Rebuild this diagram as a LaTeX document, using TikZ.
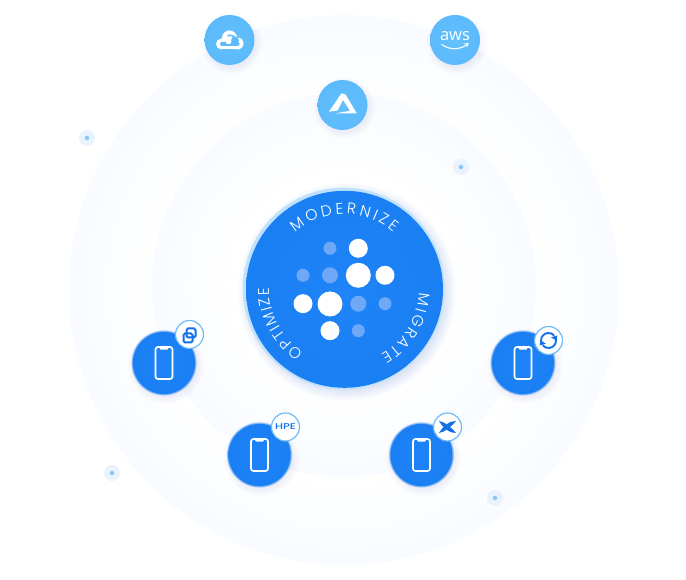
\documentclass[tikz,border=0pt]{standalone}
\usepackage{fontspec}
\newfontfamily\ringfont{Poppins Light}
\newfontfamily\awsfont{Open Sans}
\newfontfamily\hpefont{Poppins Medium}
\usetikzlibrary{decorations.text,arrows.meta}
\definecolor{pale}{RGB}{248,251,255}
\definecolor{sky}{RGB}{92,186,252}
\definecolor{skyhi}{RGB}{100,192,253}
\definecolor{core}{RGB}{26,127,243}
\definecolor{corehi}{RGB}{30,132,247}
\definecolor{rimc}{RGB}{190,225,253}
\definecolor{iconblue}{RGB}{20,112,232}
\definecolor{badgerim}{RGB}{112,186,245}
\definecolor{semidot}{RGB}{110,168,246}
\definecolor{haloc}{RGB}{232,243,254}
\definecolor{speckc}{RGB}{140,196,245}
\definecolor{shadec}{RGB}{60,110,225}
\pgfdeclareradialshading{outerfade}{\pgfpointorigin}{color(0bp)=(white);color(17bp)=(white);color(25bp)=(pale);color(50bp)=(pale)}
\pgfdeclareradialshading{innerfade}{\pgfpointorigin}{color(0bp)=(white);color(14bp)=(white);color(25bp)=(pale);color(50bp)=(pale)}
\newcommand\softshadow[5]{% x y r colour opacity
  \foreach \k in {14,12,...,0}{\fill[#4,opacity=#5] (#1+2,#2+3) circle ({#3+\k*0.5});}}
\newcommand\softdisc[4]{% x y r colour: blurred edge
  \foreach \k in {3,2,1}{\fill[#4,opacity=0.3] (#1,#2) circle ({#3+\k*0.6});}}
\newcommand\phoneglyph[1]{%
  \begin{scope}[shift={(#1)}]
    \draw[phoneline,rounded corners=2.5pt] (-8.5,-16) rectangle (8.5,16);
    \fill[white] (-5,-16) -- (5,-16) -- (3.5,-13.3) -- (-3.5,-13.3) -- cycle;
  \end{scope}}
\tikzset{
  skydisc/.style={circle,inner sep=0pt,minimum size=50pt,shade,shading=radial,inner color=skyhi,outer color=sky},
  coredisc/.style={circle,inner sep=0pt,minimum size=62pt,shade,shading=radial,inner color=corehi,outer color=core},
  badge/.style={circle,inner sep=0pt,minimum size=28pt,fill=white,draw=badgerim,line width=1.2pt},
  phoneline/.style={draw=white,line width=1.7pt},
  bigdot/.style={circle,inner sep=0pt,fill=white,minimum size=#1},
  semi/.style={circle,inner sep=0pt,fill=semidot,minimum size=#1},
  halo/.style={circle,inner sep=0pt,fill=haloc,minimum size=16pt},
  speck/.style={circle,inner sep=0pt,fill=speckc,minimum size=4.5pt},
  bluestroke/.style={draw=iconblue,line width=2pt},
  ringtext/.style={decorate,decoration={text along path,text align={fit to path},text={|\ringfont\fontsize{15.5}{15.5}\selectfont\color{white}|#1}}}
}
\begin{document}
\begin{tikzpicture}[x=1pt,y=-1pt,yshift=580pt]
\useasboundingbox (0,0) rectangle (686,580);
% rings
\path[shade,shading=outerfade] (344,290) circle (275);
\path[shade,shading=innerfade] (344,285) circle (192);
% scattered dots
\foreach \n/\x/\y in {sa/87/138,sb/461/167,sc/112/473,sd/495/498}{
  \node[halo] (\n) at (\x,\y) {};
  \node[speck] (\n c) at (\x,\y) {};
}
% top cloud icons
\softshadow{229.5}{40}{24}{shadec}{0.008}
\softshadow{455}{40}{24}{shadec}{0.008}
\softshadow{342.5}{105}{24}{shadec}{0.008}
\node[skydisc] (gcp) at (229.5,40) {};
\node[skydisc] (aws) at (455,40) {};
\node[skydisc] (azure) at (342.5,105) {};
% google cloud glyph
\begin{scope}[shift={(229.5,40.5)}]
  \fill[white] (-8,3.5) circle (5.5) (8,3) circle (6) (0,-2.5) circle (7.5);
  \fill[white] (-8,0) rectangle (8,9);
  \fill[sky,rounded corners=1.5pt] (-9.5,1.5) rectangle (10,5.5);
  \fill[sky] (5.5,0) circle (4);
  \fill[white,rounded corners=1pt] (-3.5,-1) rectangle (1.5,3.5);
  \draw[sky,line width=1.6pt] (6,-1) .. controls (5,-5) and (1,-6) .. (-2,-4.5);
\end{scope}
% aws glyph
\node[text=white,inner sep=0pt,font=\awsfont\fontsize{16.5}{16.5}\selectfont] (awst) at (455,36.5) {aws};
\draw[white,line width=1.1pt] (441.5,44.3) .. controls (449,50) and (459,50) .. (466.5,45);
\fill[white] (463.5,43.6) -- (468.8,43) -- (467,47.8) -- (466.6,45) -- cycle;
% azure glyph
\fill[white] (341.5,93.3) -- (345.5,94.5) -- (356.7,113.3) -- (336,113.3) -- (350,110.8) -- (343,100) -- (337.5,110.5) -- (329,111.7) -- cycle;
% phone discs
\foreach \x/\y in {164/363,259.5/455,421.5/455,523/363}{
  \softshadow{\x}{\y}{31}{shadec}{0.008}
  \softdisc{\x}{\y}{30.8}{core}
}
\node[coredisc] (p1) at (164,363) {};
\node[coredisc] (p2) at (259.5,455) {};
\node[coredisc] (p3) at (421.5,455) {};
\node[coredisc] (p4) at (523,363) {};
\phoneglyph{164,363}
\phoneglyph{259.5,455}
\phoneglyph{421.5,455}
\phoneglyph{523,363}
% badges
\node[badge] (b1) at (189.5,334.5) {};
\node[badge] (b2) at (285.5,427) {};
\node[badge] (b3) at (447.5,427) {};
\node[badge] (b4) at (548.5,340.5) {};
% vmware glyph
\draw[bluestroke,rounded corners=1.5pt] (183.5,333.5) rectangle (192.5,342.5);
\draw[bluestroke,rounded corners=1.5pt] (186.5,328.5) rectangle (195.5,337.5);
% hpe glyph
\node[text=iconblue,inner sep=0pt,font=\hpefont\fontsize{8.4}{8.4}\selectfont] (hpe) at (285.5,427) {\scalebox{1.35}[1]{HPE}};
% nutanix glyph
\fill[iconblue] (439,421) .. controls (444,421.5) and (451,427) .. (456,433) .. controls (450,433.5) and (443,428) .. (439,421) -- cycle;
\fill[iconblue] (439,433) .. controls (444,432.5) and (451,427) .. (456,421) .. controls (450,420.5) and (443,426) .. (439,433) -- cycle;
% refresh glyph
\begin{scope}[shift={(548.5,340.5)}]
  \draw[iconblue,line width=1.9pt] (-7.4,1) arc[start angle=172,end angle=320,radius=7.5];
  \draw[iconblue,line width=1.9pt] (7.4,-1) arc[start angle=-8,end angle=140,radius=7.5];
  \fill[iconblue] (8.8,-5) -- (2.6,-3.2) -- (8.2,0.4) -- cycle;
  \fill[iconblue] (-8.8,5) -- (-2.6,3.2) -- (-8.2,-0.4) -- cycle;
\end{scope}
% central disc
\foreach \k in {16,14,...,0}{\fill[shadec,opacity=0.018] (347,292) circle ({98+\k*0.7});}
\fill[rimc] (343.6,288.5) circle (100.8);
\node[circle,inner sep=0pt,minimum size=197pt,shade,shading=radial,inner color=corehi,outer color=core] (hub) at (344.5,289.3) {};
% logo dots
\node[bigdot=25pt] (d1) at (358.3,275.3) {};
\node[bigdot=25pt] (d2) at (330,304) {};
\node[bigdot=19pt] (d3) at (358.3,248.3) {};
\node[bigdot=19pt] (d4) at (385,275.3) {};
\node[bigdot=19pt] (d5) at (303,303.7) {};
\node[bigdot=19pt] (d6) at (330,330.7) {};
\node[semi=13pt] (d7) at (330,248.3) {};
\node[semi=13pt] (d8) at (303,275.3) {};
\node[semi=16pt] (d9) at (330,275.3) {};
\node[semi=16pt] (d10) at (358.3,303.7) {};
\node[semi=13pt] (d11) at (385,303.7) {};
\node[semi=13pt] (d12) at (358.3,330.7) {};
% curved labels
\begin{scope}[y=1pt,yshift=-580pt]
  \coordinate (hc) at (344.3,291);
  \path[ringtext=MODERNIZE] (hc) ++(131:75) arc[start angle=131,end angle=49,radius=75];
  \path[ringtext=MIGRATE] (hc) ++(-3:75) arc[start angle=-3,end angle=-61,radius=75];
  \path[ringtext=OPTIMIZE] (hc) ++(237:75) arc[start angle=237,end angle=179,radius=75];
\end{scope}
\end{tikzpicture}
\end{document}
